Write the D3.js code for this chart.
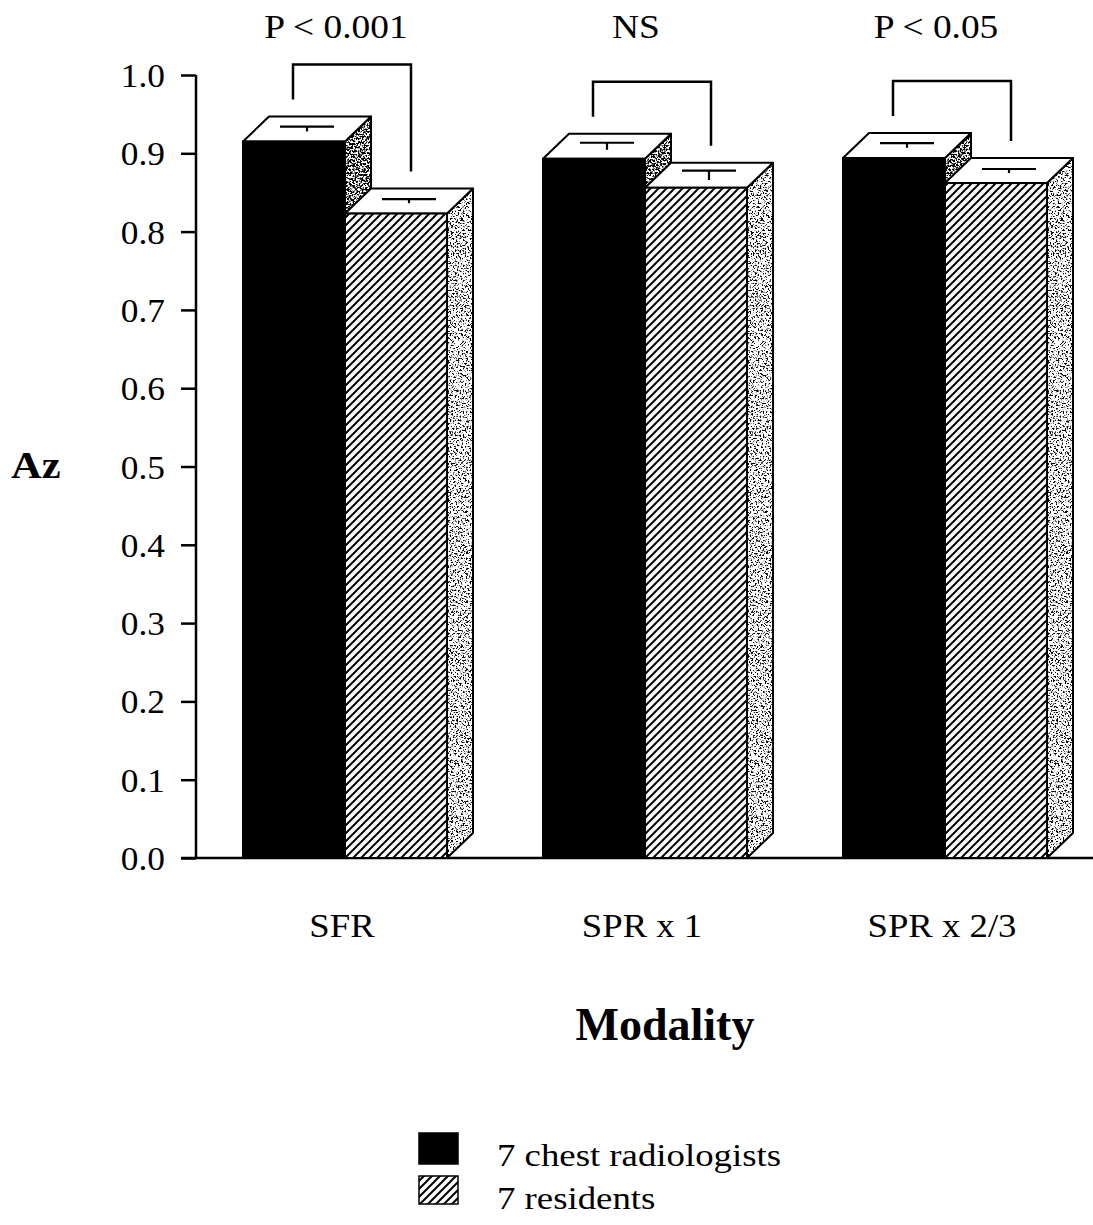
<!DOCTYPE html>
<html>
<head>
<meta charset="utf-8">
<script src="https://cdn.jsdelivr.net/npm/d3@7"></script>
<style>
  html, body { margin: 0; padding: 0; background: #fff; }
  svg { display: block; }
  text { font-family: "Liberation Serif", "Times New Roman", serif; fill: #000; }
</style>
</head>
<body>
<div id="chart"></div>
<script>
// Mean Az per modality and reader group, with the error on each mean
const categories = ["SFR", "SPR x 1", "SPR x 2/3"];
const seriesNames = ["7 chest radiologists", "7 residents"];
const radiologists = [0.915, 0.893, 0.894];
const residents = [0.823, 0.856, 0.862];
const radiologistsErr = [0.003, 0.0045, 0.003];
const residentsErr = [0.0026, 0.006, 0.002];
const pLabels = ["P < 0.001", "NS", "P < 0.05"];
const yTicks = [0, 0.1, 0.2, 0.3, 0.4, 0.5, 0.6, 0.7, 0.8, 0.9, 1.0];

const W = 1093, H = 1225;
const depthX = 26, depthY = -25;   // oblique offset of the 3D bars

const svg = d3.select("#chart").append("svg")
  .attr("width", W).attr("height", H);

const defs = svg.append("defs");

// diagonal hatch for the residents bars
const hatch = defs.append("pattern")
  .attr("id", "hatch")
  .attr("patternUnits", "userSpaceOnUse")
  .attr("width", 8).attr("height", 8);
hatch.append("rect").attr("width", 8).attr("height", 8).attr("fill", "#fff");
hatch.append("path")
  .attr("d", "M-2,2 L2,-2 M0,8 L8,0 M6,10 L10,6")
  .attr("stroke", "#000").attr("stroke-width", 2);

// speckled grey texture for the side faces
function stipple(id, freq, offset) {
  const f = defs.append("filter").attr("id", id)
    .attr("x", 0).attr("y", 0).attr("width", 1).attr("height", 1);
  f.append("feTurbulence").attr("type", "fractalNoise")
    .attr("baseFrequency", freq).attr("numOctaves", 2).attr("seed", 7).attr("result", "noise");
  f.append("feColorMatrix").attr("in", "noise").attr("type", "matrix")
    .attr("values", `0 0 0 0 0  0 0 0 0 0  0 0 0 0 0  9 0 0 0 ${offset}`)
    .attr("result", "dots");
  f.append("feComposite").attr("in", "dots").attr("in2", "SourceAlpha").attr("operator", "in");
}
stipple("stippleDark", 0.55, -4.0);
stipple("stippleLight", 0.6, -4.8);

const y = d3.scaleLinear().domain([0, 1]).range([858, 75]);
const x0 = d3.scaleBand().domain(categories).range([195, 1095]);
const x1 = d3.scaleBand().domain(seriesNames).range([48, 252]);
const bw = x1.bandwidth();

// Y axis
const yAxis = d3.axisLeft(y).tickValues(yTicks).tickFormat(d3.format(".1f"))
  .tickSize(15).tickPadding(12);
const gy = svg.append("g").attr("transform", "translate(196,0)").call(yAxis);
gy.select(".domain").attr("stroke", "#000").attr("stroke-width", 2.5)
  .attr("d", `M0,${y(1)}V${y(0)}`);
gy.selectAll(".tick line").attr("stroke", "#000").attr("stroke-width", 2.5);
gy.selectAll(".tick text")
  .attr("font-family", "Liberation Serif").attr("font-size", 34)
  .attr("dy", "0.34em").attr("x", 0)
  .attr("transform", "translate(-31,0) scale(1.04,1)");

// baseline
svg.append("line")
  .attr("x1", 181).attr("x2", W).attr("y1", y(0)).attr("y2", y(0))
  .attr("stroke", "#000").attr("stroke-width", 2.5);

const rows = categories.map((c, i) => ({
  cat: c,
  bars: [
    { series: seriesNames[0], v: radiologists[i], e: radiologistsErr[i], fill: "#000", side: "stippleDark" },
    { series: seriesNames[1], v: residents[i], e: residentsErr[i], fill: "url(#hatch)", side: "stippleLight" }
  ]
}));

const groups = svg.selectAll("g.group").data(rows).join("g")
  .attr("class", "group")
  .attr("transform", d => `translate(${x0(d.cat)},0)`);

groups.each(function(row) {
  const g = d3.select(this);
  row.bars.forEach(b => {
    const xl = x1(b.series), xr = xl + bw;
    const yt = y(b.v), yb = y(0);
    const bar = g.append("g");
    // side face
    const sidePath = `M${xr},${yt} L${xr + depthX},${yt + depthY} L${xr + depthX},${yb + depthY} L${xr},${yb} Z`;
    bar.append("path").attr("d", sidePath).attr("fill", "#fff");
    bar.append("path").attr("d", sidePath).attr("fill", "#000")
      .attr("filter", `url(#${b.side})`);
    bar.append("path").attr("d", sidePath).attr("fill", "none")
      .attr("stroke", "#000").attr("stroke-width", 2).attr("stroke-linejoin", "round");
    // top face
    bar.append("path")
      .attr("d", `M${xl},${yt} L${xl + depthX},${yt + depthY} L${xr + depthX},${yt + depthY} L${xr},${yt} Z`)
      .attr("fill", "#fff").attr("stroke", "#000").attr("stroke-width", 2).attr("stroke-linejoin", "round");
    // front face
    bar.append("rect")
      .attr("x", xl).attr("y", yt).attr("width", bw).attr("height", yb - yt)
      .attr("fill", b.fill).attr("stroke", "#000").attr("stroke-width", 2);
    // error bar drawn at mid depth on the top face
    const cx = xl + bw / 2 + depthX / 2;
    const capY = y(b.v + b.e) + depthY / 2;
    const lowY = y(b.v - b.e) + depthY / 2;
    bar.append("line").attr("x1", cx - 27).attr("x2", cx + 27)
      .attr("y1", capY).attr("y2", capY)
      .attr("stroke", "#000").attr("stroke-width", 2.2);
    bar.append("line").attr("x1", cx).attr("x2", cx)
      .attr("y1", capY).attr("y2", Math.max(lowY, capY + 4))
      .attr("stroke", "#000").attr("stroke-width", 2.2);
  });

  // significance bracket
  const [a, b] = row.bars;
  const topY = y(Math.max(a.v, b.v)) - 77;
  const lx = x1(a.series) + 50, rx = x1(b.series) + 66;
  const gap = 17;
  g.append("path")
    .attr("d", `M${lx},${y(a.v) + depthY - gap} V${topY} H${rx} V${y(b.v) + depthY - gap}`)
    .attr("fill", "none").attr("stroke", "#000").attr("stroke-width", 2.5);
});

// P-value labels
svg.selectAll("text.plabel").data(categories).join("text")
  .attr("class", "plabel")
  .attr("text-anchor", "middle")
  .attr("font-size", 34)
  .attr("transform", d => `translate(${x0(d) + x0.bandwidth() / 2 - 9},38) scale(1.1,1)`)
  .text((d, i) => pLabels[i]);

// category labels
svg.selectAll("text.cat").data(categories).join("text")
  .attr("class", "cat")
  .attr("text-anchor", "middle")
  .attr("font-size", 34)
  .attr("transform", d => `translate(${x0(d) + x0.bandwidth() / 2 - 3},937) scale(1.08,1)`)
  .text(d => d);

// axis titles
svg.append("text")
  .attr("font-weight", "bold").attr("font-size", 37)
  .attr("transform", "translate(11,478) scale(1.15,1)")
  .text("Az");
svg.append("text")
  .attr("font-weight", "bold").attr("font-size", 46)
  .attr("text-anchor", "middle")
  .attr("transform", "translate(665,1040)")
  .text("Modality");

// legend
const legend = svg.append("g").attr("transform", "translate(419,1133)");
const legendFill = ["#000", "url(#hatch)"];
seriesNames.forEach((s, i) => {
  const ly = i * 43;
  legend.append("rect")
    .attr("x", 0).attr("y", ly).attr("width", 39).attr("height", i === 0 ? 31 : 28)
    .attr("fill", legendFill[i]).attr("stroke", "#000").attr("stroke-width", 1.5);
  legend.append("text")
    .attr("font-size", 32)
    .attr("transform", `translate(78,${ly + 33}) scale(1.15,1)`)
    .text(s);
});
</script>
</body>
</html>
